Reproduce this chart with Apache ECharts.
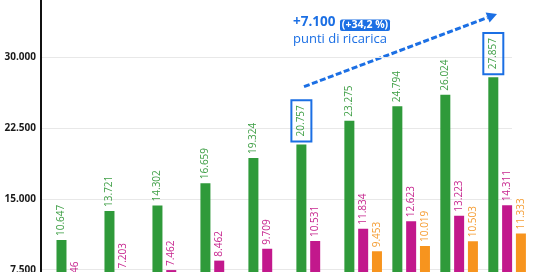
<!DOCTYPE html>
<html>
<head>
<meta charset="utf-8">
<script src="https://cdn.jsdelivr.net/npm/echarts@6/dist/echarts.min.js"></script>
<style>
html,body{margin:0;padding:0;background:#fff;}
#c{width:545px;height:272px;}
</style>
</head>
<body>
<div id="c"></div>
<script>
// Data
var categories = ['P1','P2','P3','P4','P5','P6','P7','P8','P9','P10'];
var greenValues = [10647, 13721, 14302, 16659, 19324, 20757, 23275, 24794, 26024, 27857];
var magentaValues = [5246, 7203, 7462, 8462, 9709, 10531, 11834, 12623, 13223, 14311];
var orangeValues = [null, null, null, null, null, null, 9453, 10019, 10503, 11333];
var yTicks = [0, 7500, 15000, 22500, 30000, 37500];
var boxedIndices = [5, 9];
var deltaText = '+7.100';
var pctText = '(+34,2 %)';
var subText = 'punti di ricarica';

var BLUE = '#1b6fe4';
var FONT = '"Open Sans", "Noto Sans", sans-serif';

function fmt(v){ return String(v).replace(/\B(?=(\d{3})+(?!\d))/g, '.'); }

var chart = echarts.init(document.getElementById('c'), null, {renderer:'canvas'});

var gridTop = -13.8, gridHeight = 354.4;

function labelCfg(color){
  return {
    show: true, position: 'top', rotate: 90, align: 'left', verticalAlign: 'middle',
    distance: 4, color: color, fontSize: 10, fontFamily: FONT,
    formatter: function(p){ return fmt(p.value); }
  };
}

var greenData = greenValues.map(function(v, i){
  if (boxedIndices.indexOf(i) >= 0) {
    return { value: v, label: { borderColor: BLUE, borderWidth: 2, padding: [5,5,5,5], distance: 3 } };
  }
  return v;
});

var option = {
  animation: false,
  backgroundColor: '#fff',
  grid: [
    { left: 41, width: 471, top: gridTop, height: gridHeight, containLabel: false, outerBoundsMode: 'none' },
    { left: 51.3, width: 479.8, top: gridTop, height: gridHeight, containLabel: false, outerBoundsMode: 'none' }
  ],
  xAxis: [
    { gridIndex: 0, type: 'category', data: categories, show: false },
    { gridIndex: 1, type: 'category', data: categories, show: false }
  ],
  yAxis: [
    { gridIndex: 0, type: 'value', min: yTicks[0], max: yTicks[yTicks.length-1], interval: 7500,
      axisLine: { show: true, lineStyle: { color: '#111', width: 2 } },
      axisTick: { show: false },
      axisLabel: { color: '#1a1a1a', fontWeight: 'bold', fontSize: 10, fontFamily: FONT, margin: 5,
        formatter: function(v){ return fmt(v); } },
      splitLine: { show: true, lineStyle: { color: '#e8e8e8', width: 1 } }
    },
    { gridIndex: 1, type: 'value', min: yTicks[0], max: yTicks[yTicks.length-1], interval: 7500, show: false,
      splitLine: { show: false } }
  ],
  series: [
    { type: 'bar', xAxisIndex: 1, yAxisIndex: 1, data: greenData, barWidth: 10, barGap: '38%',
      itemStyle: { color: '#2f9a3a' }, label: labelCfg('#3f9f46') },
    { type: 'bar', xAxisIndex: 1, yAxisIndex: 1, data: magentaValues, barWidth: 10, barGap: '38%',
      itemStyle: { color: '#c2188c' }, label: labelCfg('#c7278f') },
    { type: 'bar', xAxisIndex: 1, yAxisIndex: 1, data: orangeValues, barWidth: 10, barGap: '38%',
      itemStyle: { color: '#f7941e' }, label: labelCfg('#f59e35') }
  ],
  graphic: [
    { type: 'line', shape: { x1: 304, y1: 86.7, x2: 487.6, y2: 17.5 },
      style: { stroke: BLUE, lineWidth: 3, lineDash: [6, 2.5] } },
    { type: 'polygon', shape: { points: [[497, 14], [489.6, 22.4], [485.6, 12.6]] },
      style: { fill: BLUE } },
    { type: 'text', x: 293, y: 29, style: { text: deltaText, fill: BLUE, font: 'bold 13.5px ' + FONT, verticalAlign: 'bottom' } },
    { type: 'rect', shape: { x: 340, y: 19.5, width: 50, height: 11.5, r: 2 }, style: { fill: BLUE } },
    { type: 'text', x: 365, y: 25.4, style: { text: pctText, fill: '#fff', font: 'bold 10.5px ' + FONT, align: 'center', verticalAlign: 'middle' } },
    { type: 'text', x: 293, y: 33, style: { text: subText, fill: BLUE, font: '13px ' + FONT, verticalAlign: 'top' } }
  ]
};
chart.setOption(option);
</script>
</body>
</html>
